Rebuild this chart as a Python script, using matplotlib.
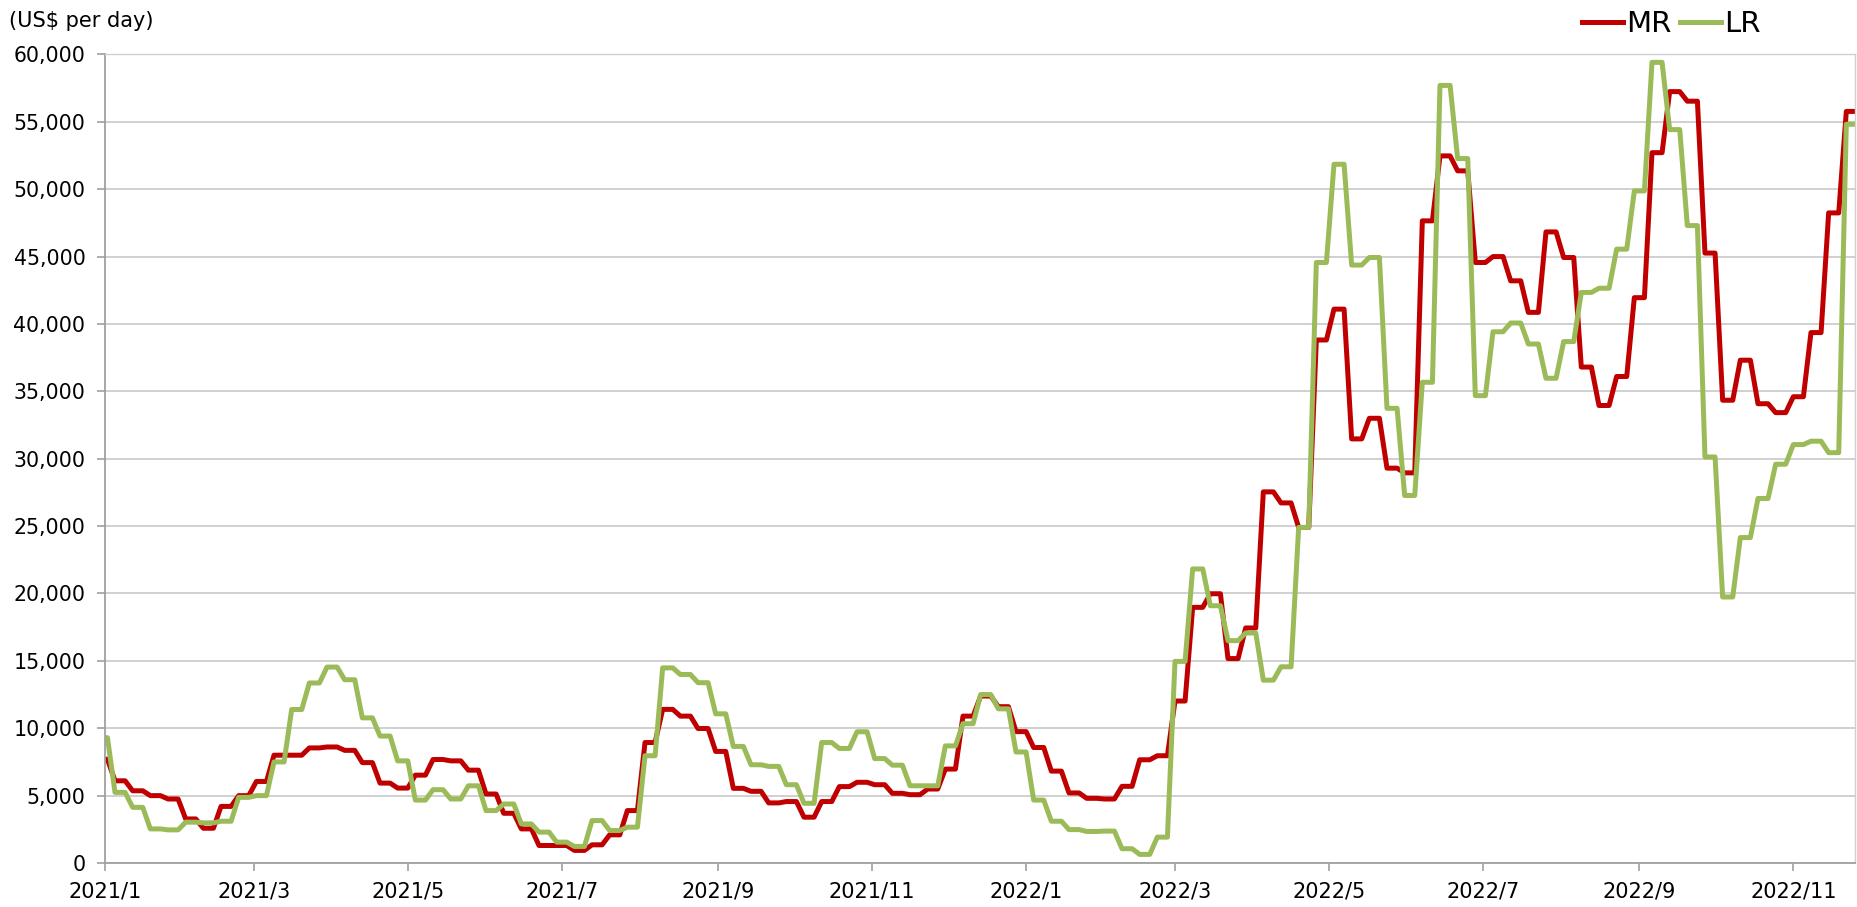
import numpy as np
import pandas as pd
import matplotlib
matplotlib.use("Agg")
import matplotlib.pyplot as plt
import matplotlib.dates as mdates
from matplotlib.ticker import FuncFormatter, MultipleLocator

# weekly rates, US$ per day (week starts on Tuesdays from 2020/12/29)
mr = [7700, 6100, 5360, 5000, 4750, 3270, 2580, 4200, 5000, 6050,
      8000, 8000, 8540, 8610, 8360, 7450, 5930, 5560, 6520, 7680,
      7580, 6890, 5120, 3690, 2530, 1300, 1300, 935, 1350, 2090,
      3890, 8940, 11400, 10900, 9980, 8280, 5540, 5320, 4460, 4560,
      3400, 4560, 5670, 5990, 5810, 5170, 5070, 5490, 6970, 10900,
      12390, 11600, 9750, 8570, 6820, 5200, 4800, 4750, 5690, 7660,
      7960, 12020, 18970, 19980, 15170, 17440, 27540, 26720, 24900, 38810,
      41100, 31470, 33000, 29300, 28950, 47650, 52470, 51360, 44560, 45000,
      43200, 40860, 46830, 44930, 36800, 33950, 36100, 41950, 52710, 57240,
      56530, 45260, 34340, 37310, 34080, 33420, 34600, 39360, 48240, 55770]

lr = [9300, 5240, 4130, 2530, 2460, 3030, 2980, 3100, 4870, 5000,
      7500, 11390, 13360, 14540, 13600, 10770, 9420, 7580, 4670, 5440,
      4750, 5730, 3890, 4380, 2900, 2290, 1550, 1230, 3150, 2410,
      2660, 7960, 14480, 13990, 13380, 11070, 8650, 7290, 7170, 5810,
      4430, 8940, 8500, 9740, 7750, 7260, 5730, 5730, 8690, 10340,
      12500, 11440, 8240, 4670, 3100, 2480, 2340, 2370, 1060, 640,
      1920, 14960, 21820, 19090, 16500, 17070, 13570, 14560, 24900, 44560,
      51850, 44370, 44930, 33740, 27270, 35670, 57700, 52270, 34680, 39420,
      40070, 38510, 35970, 38690, 42340, 42650, 45550, 49870, 59410, 54420,
      47300, 30130, 19740, 24150, 27050, 29590, 31050, 31300, 30450, 54820]

weeks = pd.date_range("2020-12-29", periods=len(mr), freq="7D")

# each weekly value is held flat for a few days
def plateau(vals):
    x = np.empty(2 * len(vals), dtype="datetime64[ns]")
    x[0::2] = weeks.values
    x[1::2] = (weeks + pd.Timedelta(days=4)).values
    y = np.repeat(vals, 2)
    return x, y

plt.rcParams["font.family"] = "DejaVu Sans"

fig = plt.figure(figsize=(18.57, 9.07), dpi=100)
ax = fig.add_axes([0.0565, 0.0485, 0.9425, 0.8915])

x, y = plateau(mr)
ax.plot(x, y, color="#C00000", lw=3.6, label="MR", solid_joinstyle="round")
x, y = plateau(lr)
ax.plot(x, y, color="#9BBB59", lw=3.6, label="LR", solid_joinstyle="round")

ax.set_ylim(0, 60000)
ax.set_xlim(pd.Timestamp("2021-01-01"), pd.Timestamp("2021-01-01") + pd.Timedelta(days=693.5))
ax.yaxis.set_major_locator(MultipleLocator(5000))
ax.yaxis.set_major_formatter(FuncFormatter(lambda v, p: f"{int(v):,}"))
ax.xaxis.set_major_locator(mdates.MonthLocator(bymonth=[1, 3, 5, 7, 9, 11]))
ax.xaxis.set_major_formatter(FuncFormatter(lambda v, p: f"{mdates.num2date(v).year}/{mdates.num2date(v).month}"))

ax.grid(axis="y", color="#C8C8C8", lw=1.2)
ax.set_axisbelow(True)
for s in ["left", "bottom"]:
    ax.spines[s].set_color("#A0A0A0")
    ax.spines[s].set_linewidth(1.3)
for s in ["top", "right"]:
    ax.spines[s].set_color("#D0D0D0")
    ax.spines[s].set_linewidth(1.0)

ax.tick_params(axis="y", length=6, width=1.2, color="#A0A0A0", labelsize=14.8, pad=8)
ax.tick_params(axis="x", length=6, width=1.2, color="#A0A0A0", labelsize=15, pad=7.5)

fig.text(0.005, 0.977, "(US$ per day)", fontsize=15, va="center", ha="left")

fig.legend(loc="center", bbox_to_anchor=(0.900, 0.973), ncol=2, frameon=False,
           fontsize=21, handlelength=1.4, handletextpad=0.1, columnspacing=0.3,
           borderpad=0, borderaxespad=0)

fig.savefig("out.png", dpi=100)
